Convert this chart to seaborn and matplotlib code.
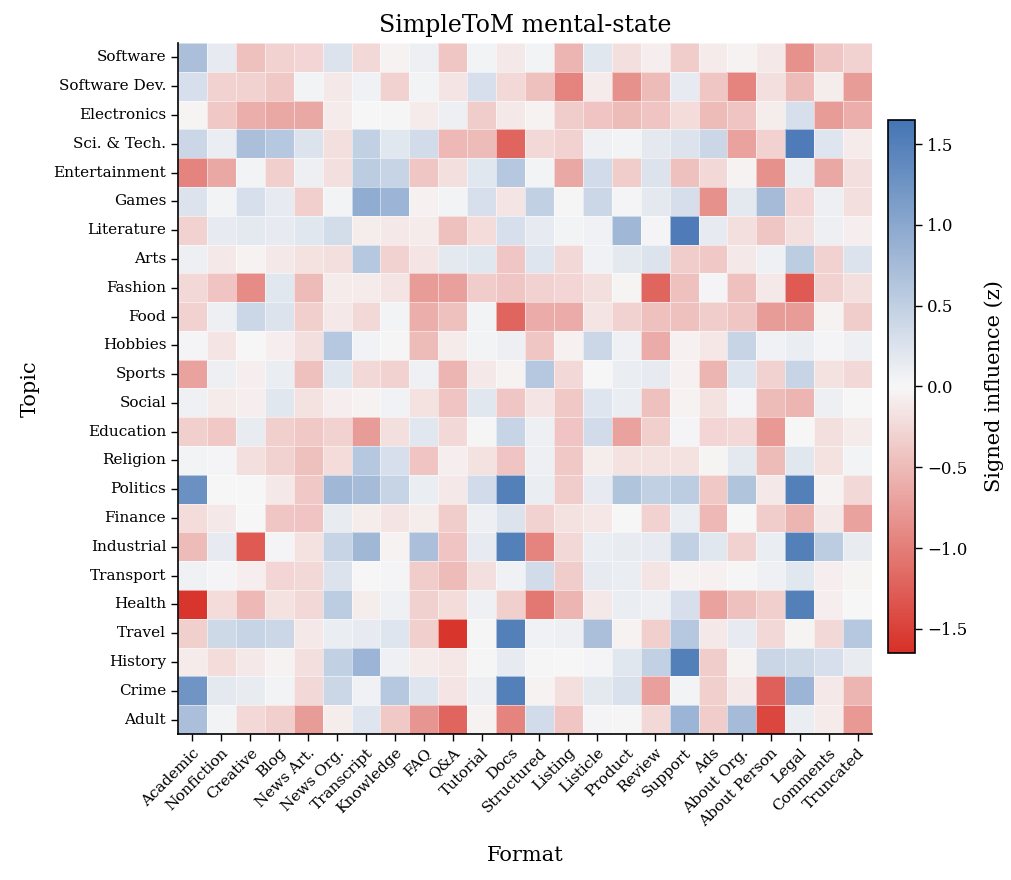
import numpy as np
import pandas as pd
import seaborn as sns
import matplotlib.pyplot as plt
from matplotlib.colors import LinearSegmentedColormap

# Rows / columns of the heatmap
topics = ['Software', 'Software Dev.', 'Electronics', 'Sci. & Tech.', 'Entertainment',
          'Games', 'Literature', 'Arts', 'Fashion', 'Food', 'Hobbies', 'Sports', 'Social',
          'Education', 'Religion', 'Politics', 'Finance', 'Industrial', 'Transport',
          'Health', 'Travel', 'History', 'Crime', 'Adult']
formats = ['Academic', 'Nonfiction', 'Creative', 'Blog', 'News Art.', 'News Org.',
           'Transcript', 'Knowledge', 'FAQ', 'Q&A', 'Tutorial', 'Docs', 'Structured',
           'Listing', 'Listicle', 'Product', 'Review', 'Support', 'Ads', 'About Org.',
           'About Person', 'Legal', 'Comments', 'Truncated']

# Signed influence (z), one row per topic
z_values = [
    [0.70, 0.15, -0.45, -0.30, -0.28, 0.25, -0.25, -0.05, 0.10, -0.40, 0.05, -0.12, 0.05, -0.55, 0.20, -0.20, -0.07, -0.35, -0.10, -0.05, -0.12, -0.85, -0.40, -0.30],
    [0.30, -0.30, -0.30, -0.38, 0.05, -0.12, 0.07, -0.30, 0.04, -0.15, 0.30, -0.25, -0.45, -0.95, -0.10, -0.85, -0.50, 0.15, -0.40, -0.95, -0.20, -0.50, -0.08, -0.75],
    [-0.03, -0.38, -0.60, -0.65, -0.65, -0.10, 0.00, 0.02, -0.10, 0.10, -0.35, -0.12, -0.05, -0.35, -0.42, -0.50, -0.42, -0.22, -0.50, -0.42, -0.08, 0.30, -0.75, -0.60],
    [0.40, 0.12, 0.70, 0.60, 0.25, -0.20, 0.50, 0.20, 0.35, -0.52, -0.50, -1.20, -0.25, -0.30, 0.08, 0.05, 0.18, 0.25, 0.40, -0.70, -0.30, 1.55, 0.22, -0.10],
    [-0.95, -0.65, 0.04, -0.33, 0.10, -0.20, 0.55, 0.45, -0.40, -0.20, 0.20, 0.60, 0.04, -0.65, 0.35, -0.35, 0.25, -0.45, -0.25, -0.05, -0.85, 0.12, -0.65, -0.20],
    [0.25, 0.05, 0.30, 0.15, -0.33, 0.04, 0.95, 0.85, -0.06, 0.05, 0.30, -0.15, 0.50, 0.02, 0.40, 0.03, 0.17, 0.32, -0.85, 0.18, 0.75, -0.28, 0.10, -0.20],
    [-0.30, 0.15, 0.17, 0.15, 0.20, 0.33, -0.08, -0.12, -0.10, -0.45, -0.22, 0.30, 0.15, 0.05, 0.07, 0.80, 0.03, 1.55, 0.15, -0.20, -0.40, -0.20, 0.10, -0.07],
    [0.10, -0.12, -0.04, -0.12, -0.17, -0.20, 0.60, -0.30, -0.15, 0.18, 0.20, -0.40, 0.22, -0.25, 0.07, 0.17, 0.25, -0.35, -0.38, -0.12, 0.08, 0.55, -0.30, 0.25],
    [-0.25, -0.42, -0.90, 0.20, -0.50, -0.10, -0.10, -0.15, -0.75, -0.72, -0.35, -0.40, -0.30, -0.28, -0.20, -0.03, -1.20, -0.45, 0.03, -0.45, -0.12, -1.30, -0.30, -0.20],
    [-0.30, 0.10, 0.40, 0.25, -0.33, -0.12, -0.25, 0.04, -0.60, -0.45, 0.05, -1.20, -0.62, -0.62, -0.15, -0.30, -0.45, -0.45, -0.35, -0.40, -0.75, -0.75, -0.05, -0.35],
    [0.03, -0.15, 0.00, -0.07, -0.20, 0.60, 0.06, 0.02, -0.50, -0.10, 0.04, 0.10, -0.40, -0.06, 0.40, 0.08, -0.62, -0.06, -0.13, 0.45, 0.07, 0.12, 0.03, 0.10],
    [-0.70, 0.10, -0.07, 0.12, -0.45, 0.20, -0.25, -0.30, 0.08, -0.55, -0.12, -0.04, 0.60, -0.25, 0.00, 0.12, 0.15, -0.06, -0.55, 0.22, -0.30, 0.45, -0.18, -0.25],
    [0.08, -0.10, -0.07, 0.20, -0.18, -0.07, -0.04, 0.06, -0.18, -0.42, 0.20, -0.40, -0.15, -0.38, 0.22, 0.12, -0.45, -0.05, -0.18, 0.03, -0.50, -0.55, 0.10, 0.00],
    [-0.33, -0.38, 0.13, -0.33, -0.38, -0.30, -0.75, -0.20, 0.20, -0.25, 0.02, 0.45, 0.10, -0.42, 0.35, -0.70, -0.33, 0.03, -0.28, -0.25, -0.78, 0.00, -0.20, -0.10],
    [0.04, 0.03, -0.20, -0.30, -0.45, -0.22, 0.60, 0.30, -0.42, -0.07, -0.17, -0.42, 0.10, -0.38, -0.08, -0.18, -0.18, -0.18, -0.03, 0.18, -0.50, 0.20, -0.18, 0.05],
    [1.30, 0.00, 0.00, -0.12, -0.38, 0.80, 0.75, 0.45, 0.12, -0.12, 0.35, 1.50, 0.12, -0.35, 0.15, 0.65, 0.50, 0.55, -0.38, 0.65, -0.12, 1.50, -0.05, -0.25],
    [-0.22, -0.12, 0.00, -0.40, -0.42, 0.13, -0.08, -0.15, -0.08, -0.35, 0.10, 0.25, -0.30, -0.18, -0.13, 0.00, -0.30, 0.12, -0.52, 0.00, -0.35, -0.55, -0.12, -0.70],
    [-0.50, 0.15, -1.30, 0.03, -0.17, 0.45, 0.80, -0.05, 0.70, -0.42, 0.15, 1.50, -0.95, -0.25, 0.12, 0.13, 0.15, 0.50, 0.20, -0.30, 0.12, 1.50, 0.55, 0.13],
    [0.07, 0.03, -0.07, -0.28, -0.25, 0.25, 0.00, 0.03, -0.35, -0.50, -0.20, 0.07, 0.35, -0.35, 0.15, 0.12, -0.15, -0.05, -0.06, 0.02, 0.08, 0.20, -0.07, -0.03],
    [-1.60, -0.22, -0.52, -0.18, -0.25, 0.55, -0.08, 0.08, -0.32, -0.22, 0.08, -0.33, -1.05, -0.55, -0.12, 0.12, 0.10, 0.30, -0.70, -0.45, -0.33, 1.50, -0.07, 0.00],
    [-0.33, 0.38, 0.45, 0.40, -0.12, 0.12, 0.15, 0.22, -0.33, -1.60, 0.02, 1.50, 0.07, 0.10, 0.70, -0.04, -0.33, 0.60, -0.12, 0.15, -0.25, -0.03, -0.25, 0.60],
    [-0.10, -0.22, -0.12, -0.05, -0.20, 0.50, 0.85, 0.08, -0.10, -0.13, 0.02, 0.15, 0.02, 0.01, 0.03, 0.20, 0.50, 1.50, -0.35, -0.04, 0.42, 0.38, 0.30, 0.13],
    [1.25, 0.18, 0.13, 0.05, -0.25, 0.40, 0.07, 0.60, 0.22, -0.15, 0.10, 1.50, -0.04, -0.20, 0.18, 0.28, -0.72, 0.04, -0.33, -0.12, -1.25, 0.85, -0.12, -0.55],
    [0.70, 0.05, -0.25, -0.33, -0.75, -0.08, 0.22, -0.38, -0.80, -1.20, -0.05, -0.95, 0.35, -0.40, 0.03, 0.02, -0.25, 0.85, -0.35, 0.75, -1.45, 0.12, -0.10, -0.78],
]

sns.set_theme(style="ticks")
plt.rcParams['font.family'] = ['DejaVu Serif']
plt.rcParams.update({'text.color': 'black', 'axes.labelcolor': 'black',
                     'xtick.color': 'black', 'ytick.color': 'black'})

df = pd.DataFrame(z_values, index=topics, columns=formats)
cmap = LinearSegmentedColormap.from_list("signed", ["#d73027", "#f7f7f7", "#4575b4"])

fig = plt.figure(figsize=(10.11, 8.8), dpi=100)
ax = fig.add_axes([178 / 1011, 1 - 734 / 880, 694 / 1011, 691 / 880])
cax = fig.add_axes([888 / 1011, 1 - 653 / 880, 27 / 1011, 533 / 880])

sns.heatmap(df, ax=ax, cbar_ax=cax, cmap=cmap, vmin=-1.65, vmax=1.65,
            linewidths=0.4, linecolor=(1, 1, 1, 0.5),
            cbar_kws={"label": "Signed influence (z)", "ticks": [-1.5, -1, -0.5, 0, 0.5, 1, 1.5]})

# spines on left / bottom like the original
for side in ['left', 'bottom']:
    ax.spines[side].set_visible(True)
    ax.spines[side].set_linewidth(1.2)
    ax.spines[side].set_color('black')

ax.tick_params(axis='both', length=5, width=1, labelsize=11, color='black', labelcolor='black')
ax.set_yticklabels(topics, rotation=0)
ax.set_xticklabels(formats, rotation=45, ha='right', rotation_mode='anchor')
ax.set_xlabel("Format", fontsize=15, labelpad=12, color='black')
ax.set_ylabel("Topic", fontsize=15, labelpad=10, color='black')
ax.set_title("SimpleToM mental-state", fontsize=17, pad=8, color='black')

cb = ax.collections[0].colorbar
cb.outline.set_linewidth(1.2)
cb.outline.set_edgecolor('black')
cb.ax.tick_params(labelsize=12, length=5, width=1, color='black', labelcolor='black')
cb.set_label("Signed influence (z)", fontsize=15, labelpad=12, color='black')

fig.savefig("out.png", dpi=100)
